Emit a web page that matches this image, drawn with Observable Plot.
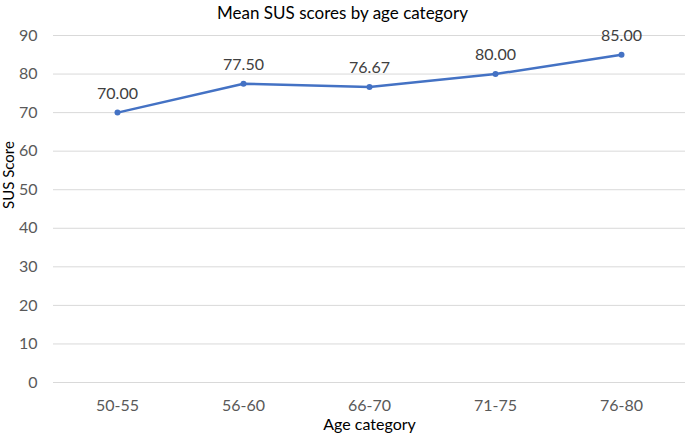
<!DOCTYPE html>
<html>
<head>
<meta charset="utf-8">
<script src="https://cdn.jsdelivr.net/npm/d3@7"></script>
<script src="https://cdn.jsdelivr.net/npm/@observablehq/plot@0.6"></script>
<style>
  html, body { margin: 0; padding: 0; background: #fff; }
  #wrap { position: relative; width: 685px; height: 438px; font-family: Lato, "Open Sans", sans-serif; }
  #title { position: absolute; left: 0; top: 2px; width: 685px; text-align: center; font-size: 17px; color: #000; }
</style>
</head>
<body>
<div id="wrap">
  <div id="title"></div>
</div>
<script>
const titleText = "Mean SUS scores by age category";
const xLabel = "Age category";
const yLabel = "SUS Score";
const categories = ["50-55", "56-60", "66-70", "71-75", "76-80"];
const scores = [70.00, 77.50, 76.67, 80.00, 85.00];
const yTicks = [0, 10, 20, 30, 40, 50, 60, 70, 80, 90];

const data = categories.map((c, i) => ({category: c, score: scores[i]}));
document.getElementById("title").textContent = titleText;

const chart = Plot.plot({
  width: 685,
  height: 438,
  marginLeft: 53,
  marginRight: 0,
  marginTop: 35,
  marginBottom: 56,
  style: {fontFamily: "Lato, 'Open Sans', sans-serif", fontSize: "16px", background: "transparent"},
  x: {type: "point", domain: categories, padding: 0.5},
  y: {domain: [0, 90]},
  marks: [
    Plot.ruleY(yTicks, {stroke: "#d9d9d9", strokeWidth: 1}),
    Plot.axisY(yTicks, {tickSize: 0, tickPadding: 16, label: null, fill: "#595959", fontSize: 16}),
    Plot.axisX({tickSize: 0, tickPadding: 17, label: null, fill: "#595959", fontSize: 16}),
    Plot.line(data, {x: "category", y: "score", stroke: "#4472C4", strokeWidth: 2.5}),
    Plot.dot(data, {x: "category", y: "score", fill: "#4472C4", r: 3}),
    Plot.text(data, {x: "category", y: "score", text: d => d.score.toFixed(2), dy: -19, fill: "#404040", fontSize: 16}),
    Plot.text([xLabel], {frameAnchor: "bottom", dy: 47, text: d => d, fill: "#000", fontSize: 16}),
    Plot.text([yLabel], {frameAnchor: "left", dx: -44, rotate: -90, text: d => d, fill: "#000", fontSize: 15})
  ]
});
document.getElementById("wrap").appendChild(chart);
</script>
</body>
</html>
